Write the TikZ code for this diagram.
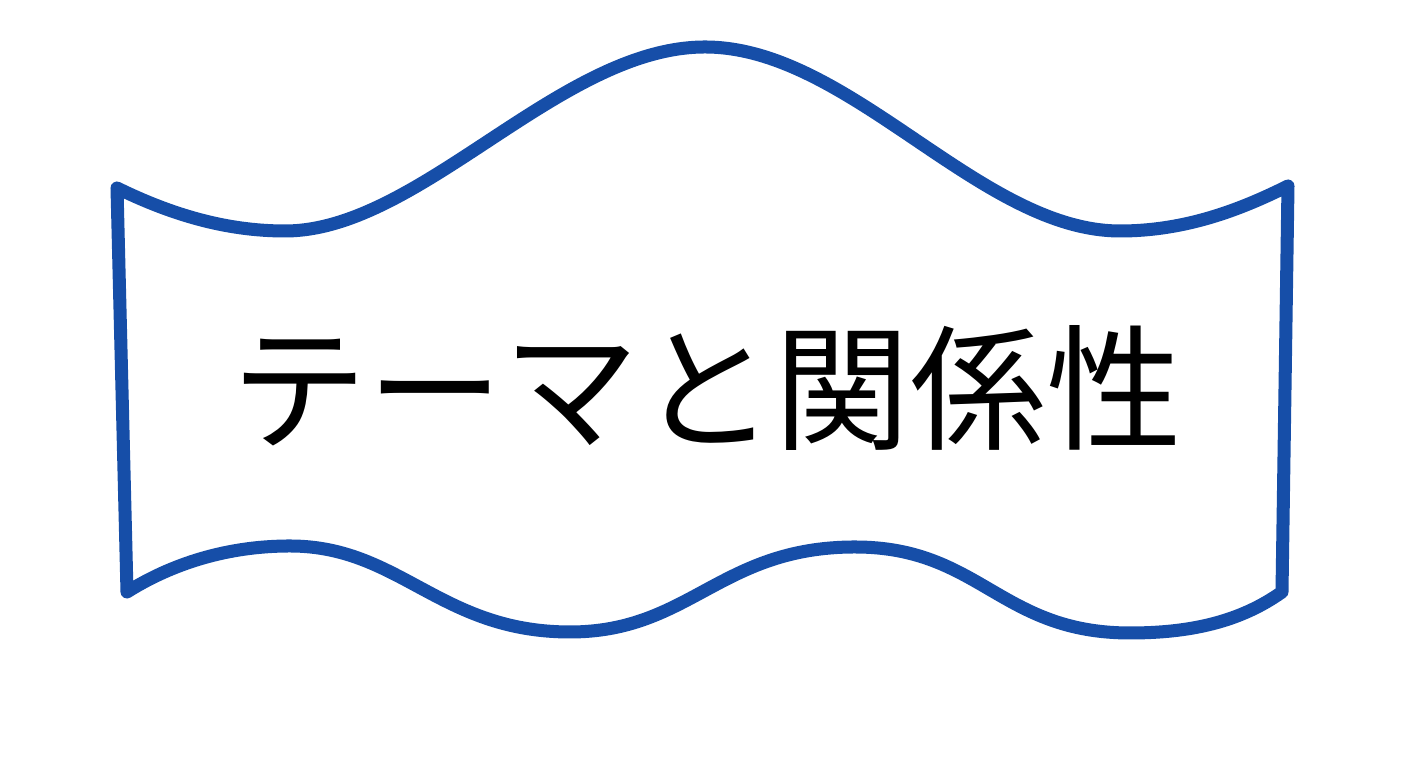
\documentclass[tikz,border=0pt]{standalone}
\usepackage{fontspec}
\newfontfamily\jpfont{Noto Sans CJK JP}
\usepackage{tikz}
\definecolor{bannerblue}{RGB}{22,78,168}
\tikzset{banner line/.style={draw=bannerblue,line width=0.13cm,line join=round,line cap=round},
title node/.style={font=\jpfont\fontsize{38.6}{40}\selectfont,inner sep=0pt},
}

\begin{document}
\begin{tikzpicture}[x=0.01cm,y=-0.01cm]
	\useasboundingbox (0,0) rectangle (1408,768);
	
	% wavy banner
	\draw[banner line,fill=white]
	(117,188) .. controls (170,214) and (225,231) .. (285,231)
	.. controls (420,231) and (560,47) .. (705,47)
	.. controls (850,47) and (980,231) .. (1120,231)
	.. controls (1185,231) and (1240,210) .. (1288,186)
	-- (1282,592)
	.. controls (1240,622) and (1190,633) .. (1130,633)
	.. controls (1000,633) and (980,547) .. (855,547)
	.. controls (720,547) and (690,632) .. (570,632)
	.. controls (440,632) and (400,546) .. (290,546)
	.. controls (220,546) and (165,568) .. (127,592)
	-- cycle;
	
	\node[title node] (title) at (707,388) {テーマと関係性};
\end{tikzpicture}
\end{document}
